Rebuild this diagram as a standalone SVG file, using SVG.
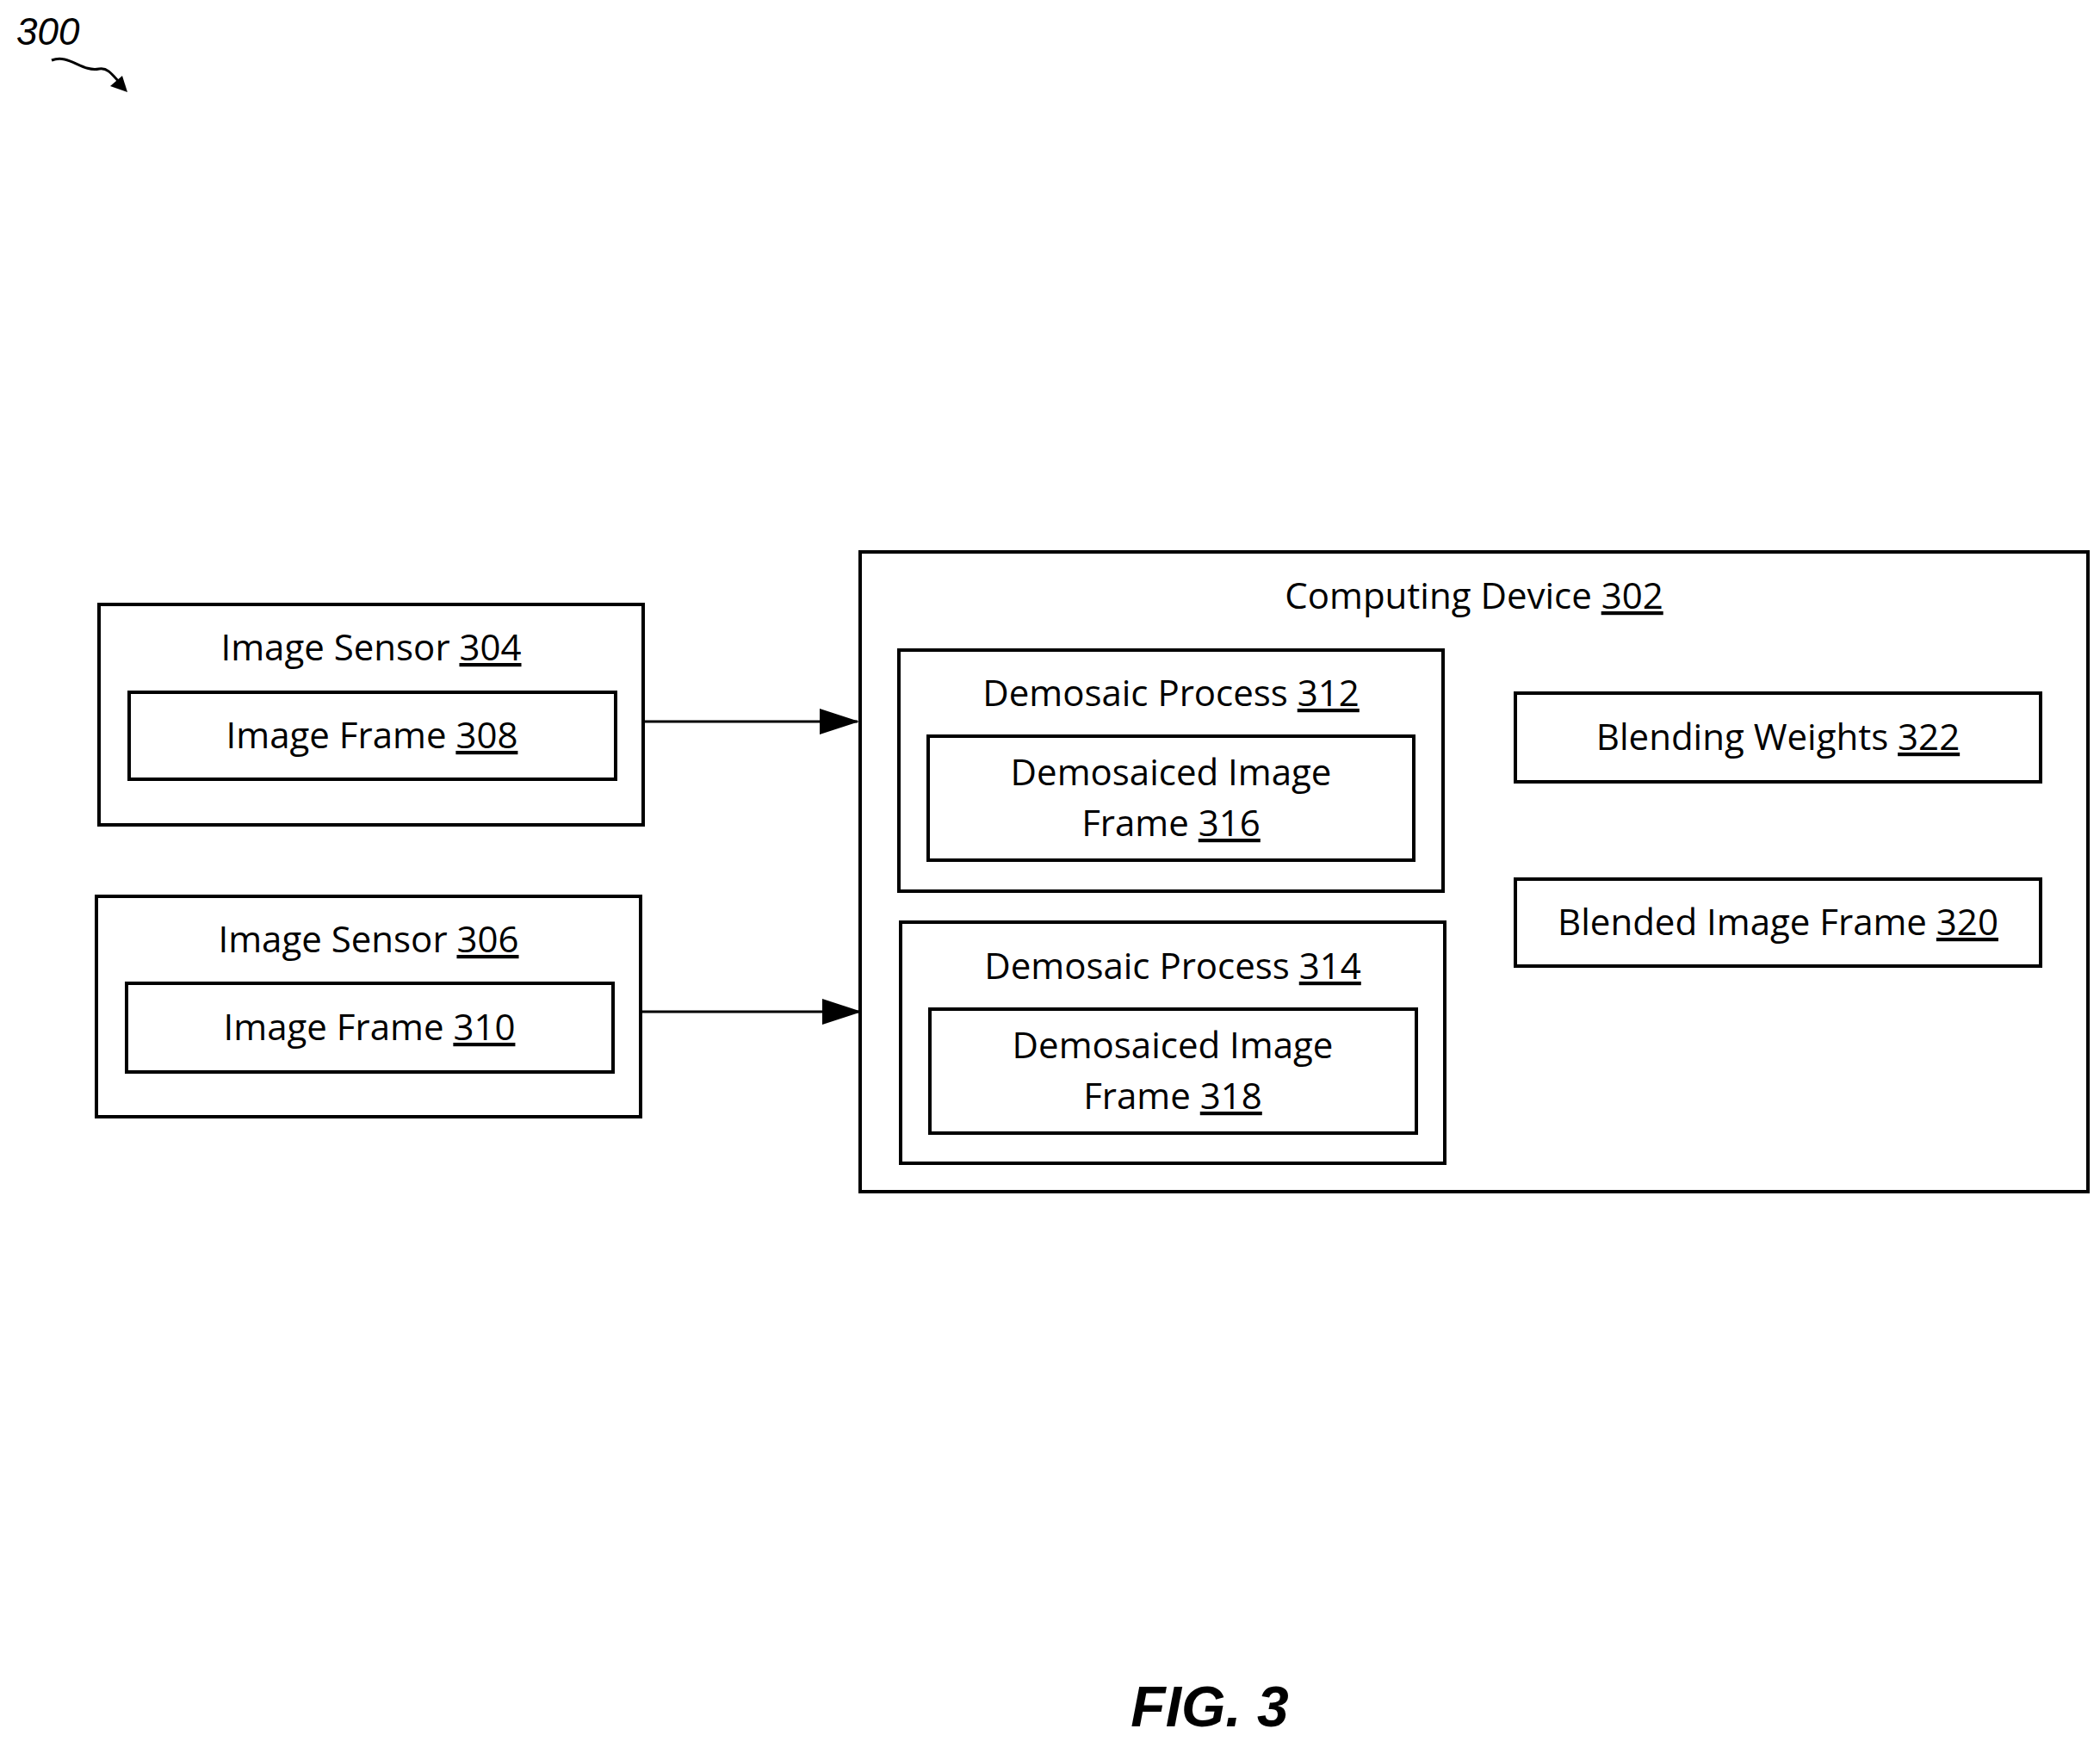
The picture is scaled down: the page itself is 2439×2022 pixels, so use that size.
<svg xmlns="http://www.w3.org/2000/svg" width="2439" height="2022" viewBox="0 0 2439 2022">
<style>
.b{fill:none;stroke:#000;stroke-width:4}
.t{font-family:"Open Sans","Liberation Sans",sans-serif;font-size:42px;text-anchor:middle;fill:#000}
.u{text-decoration:underline}
</style>
<defs>
<marker id="ah" markerWidth="46" markerHeight="30" refX="44" refY="15" orient="auto" markerUnits="userSpaceOnUse"><path d="M0,0L46,15L0,30z"/></marker></defs>
<rect width="2439" height="2022" fill="#fff"/>
<g id="label300"><text x="19" y="52" style="font-family:'Liberation Sans',sans-serif;font-size:44px;font-style:italic">300</text>
<path d="M60,70 C80,62 95,84 115,80 C125,78 130,86 145,103" fill="none" stroke="#000" stroke-width="3"/><path d="M148,107 L128,100 L142,88z"/></g>
<g id="n302"><rect class="b" x="999" y="641" width="1426" height="743"/><text class="t" x="1712" y="707">Computing Device <tspan class="u">302</tspan></text></g>
<g id="n304"><rect class="b" x="115" y="702" width="632" height="256"/><text class="t" x="431" y="767">Image Sensor <tspan class="u">304</tspan></text></g>
<g id="n308"><rect class="b" x="150" y="804" width="565" height="101"/><text class="t" x="432" y="869">Image Frame <tspan class="u">308</tspan></text></g>
<g id="n306"><rect class="b" x="112" y="1041" width="632" height="256"/><text class="t" x="428" y="1106">Image Sensor <tspan class="u">306</tspan></text></g>
<g id="n310"><rect class="b" x="147" y="1142" width="565" height="103"/><text class="t" x="429" y="1208">Image Frame <tspan class="u">310</tspan></text></g>
<g id="n312"><rect class="b" x="1044" y="755" width="632" height="280"/><text class="t" x="1360" y="820">Demosaic Process <tspan class="u">312</tspan></text></g>
<g id="n316"><rect class="b" x="1078" y="855" width="564" height="144"/><text class="t" x="1360" y="912">Demosaiced Image</text><text class="t" x="1360" y="971">Frame <tspan class="u">316</tspan></text></g>
<g id="n314"><rect class="b" x="1046" y="1071" width="632" height="280"/><text class="t" x="1362" y="1137">Demosaic Process <tspan class="u">314</tspan></text></g>
<g id="n318"><rect class="b" x="1080" y="1172" width="565" height="144"/><text class="t" x="1362" y="1229">Demosaiced Image</text><text class="t" x="1362" y="1288">Frame <tspan class="u">318</tspan></text></g>
<g id="n322"><rect class="b" x="1760" y="805" width="610" height="103"/><text class="t" x="2065" y="871">Blending Weights <tspan class="u">322</tspan></text></g>
<g id="n320"><rect class="b" x="1760" y="1021" width="610" height="101"/><text class="t" x="2065" y="1086">Blended Image Frame <tspan class="u">320</tspan></text></g>
<g id="connectors" stroke="#000" stroke-width="3">
<line x1="747" y1="838" x2="996" y2="838" marker-end="url(#ah)"/>
<line x1="744" y1="1175" x2="999" y2="1175" marker-end="url(#ah)"/>
</g>
<text x="1405" y="2005" style="font-family:'Liberation Sans',sans-serif;font-size:66px;font-weight:bold;font-style:italic;text-anchor:middle">FIG. 3</text>
</svg>
